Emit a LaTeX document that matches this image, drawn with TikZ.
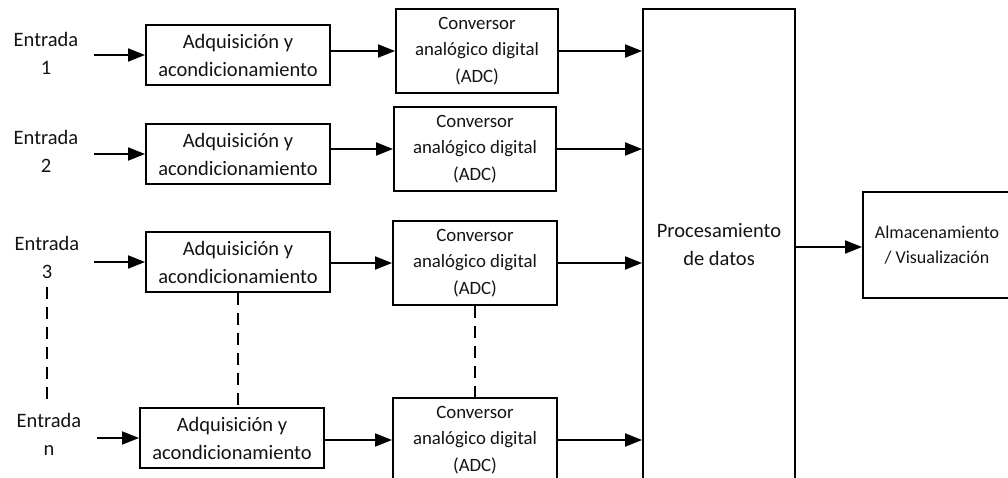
\documentclass[tikz,border=0pt]{standalone}
\usepackage{fontspec}
\setmainfont{Carlito}
\usetikzlibrary{arrows.meta}

\tikzset{
  blk/.style={draw=black, line width=2pt, inner sep=0pt, align=center,
              text=black!92, font=\fontsize{20.5}{28}\selectfont},
  adc/.style={blk, font=\fontsize{18.8}{26.5}\selectfont},
  store/.style={blk, font=\fontsize{18}{25}\selectfont},
  lbl/.style={inner sep=0pt, align=center, text=black!92,
              font=\fontsize{20.5}{28}\selectfont},
  flow/.style={line width=2pt, -{Triangle[length=17pt,width=13pt]}},
  dots/.style={line width=1.6pt, dash pattern=on 12pt off 8pt}
}

\begin{document}
\begin{tikzpicture}[x=1pt, y=-1pt]
  \useasboundingbox (0,0) rectangle (1008,478);
  \clip (0,0) rectangle (1008,478);
  \fill[white] (0,0) rectangle (1008,478);

  % input labels
  \node[lbl] (e1) at (46,53)  {Entrada\\1};
  \node[lbl] (e2) at (46,151) {Entrada\\2};
  \node[lbl] (e3) at (47,257) {Entrada\\3};
  \node[lbl] (en) at (49,434) {Entrada\\n};

  % acquisition and conditioning stages
  \node[blk, minimum width=184pt, minimum height=60pt] (a1) at (238,55)  {Adquisición y\\acondicionamiento};
  \node[blk, minimum width=184pt, minimum height=60pt] (a2) at (238,154) {Adquisición y\\acondicionamiento};
  \node[blk, minimum width=184pt, minimum height=60pt] (a3) at (238,262) {Adquisición y\\acondicionamiento};
  \node[blk, minimum width=184pt, minimum height=60pt] (an) at (232,438) {Adquisición y\\acondicionamiento};

  % analog-to-digital converters
  \node[adc, minimum width=162pt, minimum height=84pt] (c1) at (477,51)  {Conversor\\analógico digital\\(ADC)};
  \node[adc, minimum width=162pt, minimum height=84pt] (c2) at (475,149) {Conversor\\analógico digital\\(ADC)};
  \node[adc, minimum width=164pt, minimum height=84pt] (c3) at (475,263) {Conversor\\analógico digital\\(ADC)};
  \node[adc, minimum width=164pt, minimum height=84pt] (cn) at (475,440) {Conversor\\analógico digital\\(ADC)};

  % processing and storage
  \node[blk, minimum width=152pt, minimum height=472pt] (p) at (719,245) {Procesamiento\\de datos};
  \node[store, minimum width=148pt, minimum height=106pt] (s) at (937,245) {Almacenamiento\\/ Visualización};

  % free ends of the input arrows
  \coordinate (i1) at (94,55);
  \coordinate (i2) at (94,154);
  \coordinate (i3) at (94,262);
  \coordinate (in) at (97,438);

  \draw[flow] (i1) -- (a1.west);
  \draw[flow] (i2) -- (a2.west);
  \draw[flow] (i3) -- (a3.west);
  \draw[flow] (in) -- (an.west);

  \draw[flow] (a1.east |- c1.west) -- (c1.west);
  \draw[flow] (a2.east |- c2.west) -- (c2.west);
  \draw[flow] (a3.east |- c3.west) -- (c3.west);
  \draw[flow] (an.east |- cn.west) -- (cn.west);

  \draw[flow] (c1.east) -- (c1.east -| p.west);
  \draw[flow] (c2.east) -- (c2.east -| p.west);
  \draw[flow] (c3.east) -- (c3.east -| p.west);
  \draw[flow] (cn.east) -- (cn.east -| p.west);

  \draw[flow] (p.east |- 0,247) -- (s.west |- 0,247);

  % continuation marks between the third and the n-th channel
  \draw[dots] ([yshift=-9pt]e3.south) -- ([yshift=10pt]e3.south |- en.north);
  \draw[dots] (a3.south) -- (a3.south |- an.north);
  \draw[dots] (c3.south) -- (cn.north);
\end{tikzpicture}
\end{document}
